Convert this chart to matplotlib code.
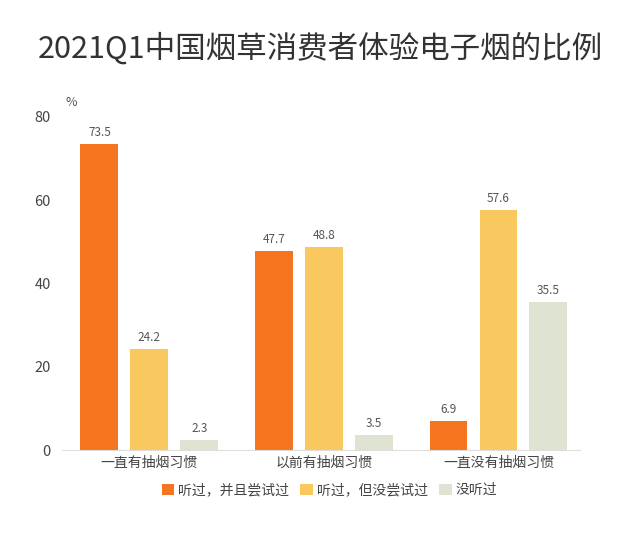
import numpy as np
import matplotlib.pyplot as plt

plt.rcParams['font.family'] = ['Noto Sans CJK SC', 'DejaVu Sans']

categories = ['一直有抽烟习惯', '以前有抽烟习惯', '一直没有抽烟习惯']
series_names = ['听过，并且尝试过', '听过，但没尝试过', '没听过']
tried = [73.5, 47.7, 6.9]
heard_not_tried = [24.2, 48.8, 57.6]
never_heard = [2.3, 3.5, 35.5]
colors = ['#F47420', '#F9C85E', '#DFE3D2']

fig = plt.figure(figsize=(6.4, 5.57), dpi=100)
ax = fig.add_axes([0.097, 0.192, 0.81, 0.598])

x = np.arange(len(categories))
width = 0.217
offset = 0.286
for i, (vals, name) in enumerate(zip([tried, heard_not_tried, never_heard], series_names)):
    pos = x + (i - 1) * offset
    bars = ax.bar(pos, vals, width, color=colors[i], label=name)
    for b, v in zip(bars, vals):
        ax.text(b.get_x() + b.get_width() / 2, v + 1.2, str(v), ha='center', va='bottom',
                fontsize=8.5, color='#555555')

ax.set_xlim(-0.5, 2.47)
ax.set_ylim(0, 80)
ax.set_yticks([0, 20, 40, 60, 80])
ax.set_xticks(x)
ax.set_xticklabels(categories, fontsize=10, color='#444444')
ax.tick_params(axis='y', length=0, labelsize=10.5, labelcolor='#444444', pad=8)
ax.tick_params(axis='x', length=0, pad=4)
for s in ['top', 'right', 'left']:
    ax.spines[s].set_visible(False)
ax.spines['bottom'].set_color('#DDDDDD')

ax.text(-0.48, 83.5, '%', fontsize=9, color='#555555', ha='left', va='center')

fig.text(0.5, 0.913, '2021Q1中国烟草消费者体验电子烟的比例', ha='center', va='center',
         fontsize=22, color='#333333')

fig.legend(loc='center', bbox_to_anchor=(0.515, 0.12), ncol=3, frameon=False,
           fontsize=10, handlelength=0.9, handleheight=0.9, handletextpad=0.3,
           columnspacing=0.8, labelcolor='#444444')

fig.savefig('out.png', dpi=100, facecolor='white')
